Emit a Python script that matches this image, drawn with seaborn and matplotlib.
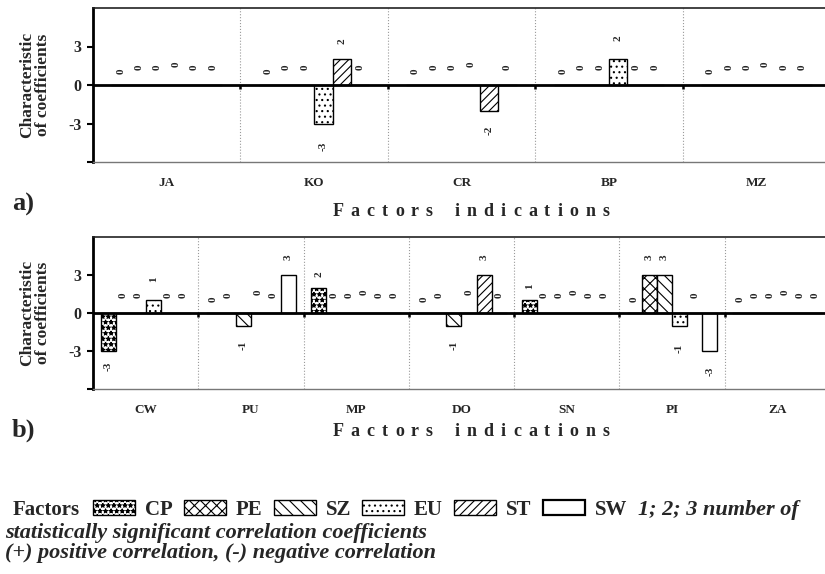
import numpy as np
import pandas as pd
import seaborn as sns
import matplotlib.pyplot as plt
from matplotlib.patches import Rectangle

# factor order inside every group and their fill patterns
factors = ["CP", "PE", "SZ", "EU", "ST", "SW"]
hatches = ["***", "xxx", "\\\\\\", "...", "////", ""]

# panel a)
groups_a = ["JA", "KO", "CR", "BP", "MZ"]
ja = [0, 0, 0, 0, 0, 0]
ko = [0, 0, 0, -3, 2, 0]
cr = [0, 0, 0, 0, -2, 0]
bp = [0, 0, 0, 2, 0, 0]
mz = [0, 0, 0, 0, 0, 0]

# panel b)
groups_b = ["CW", "PU", "MP", "DO", "SN", "PI", "ZA"]
cw = [-3, 0, 0, 1, 0, 0]
pu = [0, 0, -1, 0, 0, 3]
mp = [2, 0, 0, 0, 0, 0]
do = [0, 0, -1, 0, 3, 0]
sn = [1, 0, 0, 0, 0, 0]
pi = [0, 3, 3, -1, 0, -3]
za = [0, 0, 0, 0, 0, 0]

W, H = 825, 574
sns.set_theme(style="white")
plt.rcParams["font.family"] = ["Liberation Serif", "DejaVu Serif"]
plt.rcParams["hatch.linewidth"] = 0.8

fig = plt.figure(figsize=(W / 100, H / 100), dpi=100)
renderer = fig.canvas.get_renderer()


def px_axes(left, top, right, bottom):
    return fig.add_axes([left / W, 1 - bottom / H, (right - left) / W, (bottom - top) / H])


def draw_panel(ax, groups, rows, width):
    df = pd.DataFrame(
        [(g, f, v) for g, vals in zip(groups, rows) for f, v in zip(factors, vals)],
        columns=["group", "factor", "value"],
    )
    sns.barplot(data=df, x="group", y="value", hue="factor", order=groups,
                hue_order=factors, palette={f: "white" for f in factors},
                saturation=1, edgecolor="black", linewidth=1, width=width,
                errorbar=None, legend=False, ax=ax, zorder=2)
    pads = [8, 11, 11, 13, 11, 11]
    for cont, h, pad in zip(ax.containers, hatches, pads):
        for bar in cont:
            bar.set_hatch(h)
        ax.bar_label(cont, fmt="%d", padding=pad, rotation=90, fontsize=8,
                     fontweight="bold")

    n = len(groups)
    seps = np.arange(0.5, n - 0.5)
    ax.set_xlim(-0.5, n - 0.5)
    ax.set_ylim(-6, 6)
    ax.set_yticks([-6, -3, 0, 3])
    ax.set_yticklabels(["", "-3", "0", "3"], fontweight="bold", fontsize=11.5)
    ax.set_xticks(range(n))
    ax.set_xticklabels(groups, fontweight="bold", fontsize=9.5)
    ax.tick_params(axis="x", length=0, pad=11)
    ax.tick_params(axis="y", left=True, length=4.5, width=1.5, color="black", pad=4)
    ax.set_xlabel("")
    ax.set_ylabel("")
    ax.axhline(0, color="black", lw=2, zorder=3)
    for s in seps:
        ax.axvline(s, color="#9a9a9a", ls=":", lw=0.8, zorder=0)
    ax.vlines(seps, -0.35, 0, color="black", lw=1.8, zorder=3)
    ax.spines["left"].set_linewidth(2)
    ax.spines["left"].set_color("black")
    ax.spines["top"].set_linewidth(1.2)
    ax.spines["top"].set_color("#222222")
    ax.spines["bottom"].set_linewidth(1)
    ax.spines["bottom"].set_color("#777777")
    ax.spines["right"].set_visible(False)


def tracked(s, xc, yc, width, **kw):
    # letter-spaced caption, spread over a given pixel width
    parts = [fig.text(0, 1 - yc / H, ch, ha="left", va="center", **kw) for ch in s]
    widths = [p.get_window_extent(renderer).width if ch != " " else 0 for p, ch in zip(parts, s)]
    n_gaps = len(s) - 1
    step = (width - sum(widths)) / n_gaps
    x = xc - width / 2
    for p, w in zip(parts, widths):
        p.set_x(x / W)
        x += w + step


ax1 = px_axes(93, 8, 830, 162)
draw_panel(ax1, groups_a, [ja, ko, cr, bp, mz], 0.75)
ax2 = px_axes(93, 237, 830, 389)
draw_panel(ax2, groups_b, [cw, pu, mp, do, sn, pi, za], 6 / 7)

ylab = "Characteristic\nof coefficients"
for yc, tag, tag_y, xl_y in [(85, "a)", 204, 211), (313, "b)", 430, 431)]:
    fig.text(35 / W, 1 - yc / H, ylab, rotation=90, ha="center", va="center",
             fontweight="bold", fontsize=12.5, linespacing=0.95)
    fig.text(12 / W, 1 - tag_y / H, tag, ha="left", va="center",
             fontweight="bold", fontsize=19)
    tracked("Factors  indications", 471, xl_y, 277, fontweight="bold", fontsize=13)

# legend line built from text pieces and hatched boxes
base = 1 - 515 / H


def put(s, x, **kw):
    t = fig.text(x / W, base, s, ha="left", va="baseline", **kw)
    return t.get_window_extent(renderer).x1


x = put("Factors", 13, fontweight="bold", fontsize=15) + 13
for f, h in zip(factors, hatches):
    fig.add_artist(Rectangle((x / W, base), 42 / W, 15 / H, transform=fig.transFigure,
                             facecolor="white", edgecolor="black", hatch=h,
                             lw=1.6 if f == "SW" else 1))
    x = put(f, x + 52, fontweight="bold", fontsize=15) + 11
put("1; 2; 3 number of", x, fontweight="bold", fontstyle="italic", fontsize=16)
fig.text(5 / W, 1 - 538 / H, "statistically significant correlation coefficients",
         ha="left", va="baseline", fontsize=16, fontweight="bold", fontstyle="italic")
fig.text(5 / W, 1 - 558 / H, "(+) positive correlation, (-) negative correlation",
         ha="left", va="baseline", fontsize=16, fontweight="bold", fontstyle="italic")

fig.savefig("out.png", dpi=100)
